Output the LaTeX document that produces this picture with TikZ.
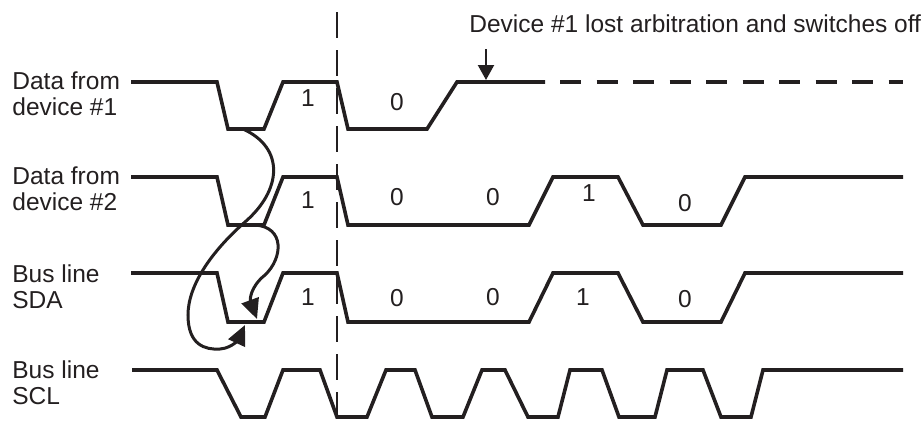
\documentclass[tikz,border=0pt]{standalone}
\usepackage{fontspec}
\setmainfont{Liberation Sans}
\usepackage{tikz}
\usetikzlibrary{arrows.meta}
\usepackage{xcolor}
\definecolor{inkgray}{RGB}{35,31,32}

\begin{document}
\begin{tikzpicture}[x=0.5pt,y=-0.5pt,color=inkgray,
  wave/.style={line width=1.8pt, line join=miter},
  lbl/.style={align=left, anchor=base west, inner sep=0pt, font=\fontsize{12.25}{12.85}\selectfont},
  bit/.style={inner sep=0pt, font=\fontsize{12.25}{14}\selectfont},
  hop/.style={line width=1.5pt, -{Triangle[length=10pt,width=9pt]}}]
  \useasboundingbox (0,0) rectangle (923,424);

  % Row labels
  \node[lbl] (dev1) at (12,115) {Data from\\device \#1};
  \node[lbl] (dev2) at (12,210) {Data from\\device \#2};
  \node[lbl] (sda) at (12,308) {Bus line\\SDA};
  \node[lbl] (scl) at (12,404) {Bus line\\SCL};

  % Data from device #1
  \draw[wave] (131,82) -- (217,82) -- (228,129) -- (264,129) -- (283,82) -- (337,82)
    -- (348,129) -- (427,129) -- (457,82) -- (545,82);
  \draw[wave, dash pattern=on 10.5pt off 7.75pt] (560,82) -- (903,82);
  \node[bit] (d1a) at (308,98) {1};
  \node[bit] (d1b) at (397,102) {0};

  % Data from device #2
  \draw[wave] (131,177) -- (217,177) -- (228,225) -- (264,225) -- (283,177) -- (337,177)
    -- (348,225) -- (529,225) -- (553,177) -- (618,177) -- (643,225) -- (721,225)
    -- (745,177) -- (903,177);
  \node[bit] (d2a) at (308,200) {1};
  \node[bit] (d2b) at (397,197) {0};
  \node[bit] (d2c) at (493,197) {0};
  \node[bit] (d2d) at (589,193) {1};
  \node[bit] (d2e) at (685,203) {0};

  % Bus line SDA
  \draw[wave] (131,273) -- (217,273) -- (228,322) -- (264,322) -- (283,273) -- (337,273)
    -- (348,322) -- (529,322) -- (553,273) -- (618,273) -- (643,322) -- (721,322)
    -- (745,273) -- (903,273);
  \node[bit] (s1) at (308,297) {1};
  \node[bit] (s2) at (397,298) {0};
  \node[bit] (s3) at (493,297) {0};
  \node[bit] (s4) at (583,297) {1};
  \node[bit] (s5) at (685,299) {0};

  % Bus line SCL
  \draw[wave] (132,370) -- (217,370) -- (241,417) -- (265,417) -- (283,370) -- (320,370)
    -- (337,417) -- (367,417) -- (386,370) -- (415,370) -- (432,417) -- (463,417)
    -- (482,370) -- (505,370) -- (528,417) -- (558,417) -- (570,370) -- (602,370)
    -- (619,417) -- (655,417) -- (667,370) -- (703,370) -- (721,417) -- (751,417)
    -- (763,370) -- (903,370);

  % Dashed marker
  \coordinate (marktop) at (337,12);
  \coordinate (markbot) at (337,422);
  \draw[line width=1pt, dash pattern=on 13pt off 6pt] (marktop) -- (markbot);

  % Wired-AND arrows
  \coordinate (lowa) at (243,129);
  \coordinate (lowb) at (255,225);
  \coordinate (sdaa) at (245,325);
  \coordinate (sdab) at (257,319);
  \draw[hop] (lowa) .. controls (285,148) and (282,190) .. (245,222)
    .. controls (212,251) and (188,285) .. (188,315)
    .. controls (188,345) and (205,350) .. (220,349)
    .. controls (233,348) and (239,338) .. (sdaa);
  \draw[hop] (lowb) .. controls (285,227) and (283,258) .. (265,275)
    .. controls (250,287) and (250,300) .. (sdab);

  % Switch-off note
  \node[anchor=base west, inner sep=0pt, font=\fontsize{12.25}{14}\selectfont] (offnote) at (469,32)
    {Device \#1 lost arbitration and switches off};
  \coordinate (offtail) at (486,49);
  \coordinate (offtip) at (486,80);
  \draw[line width=1.1pt, -{Triangle[length=7.5pt,width=8pt]}] (offtail) -- (offtip);
\end{tikzpicture}
\end{document}
